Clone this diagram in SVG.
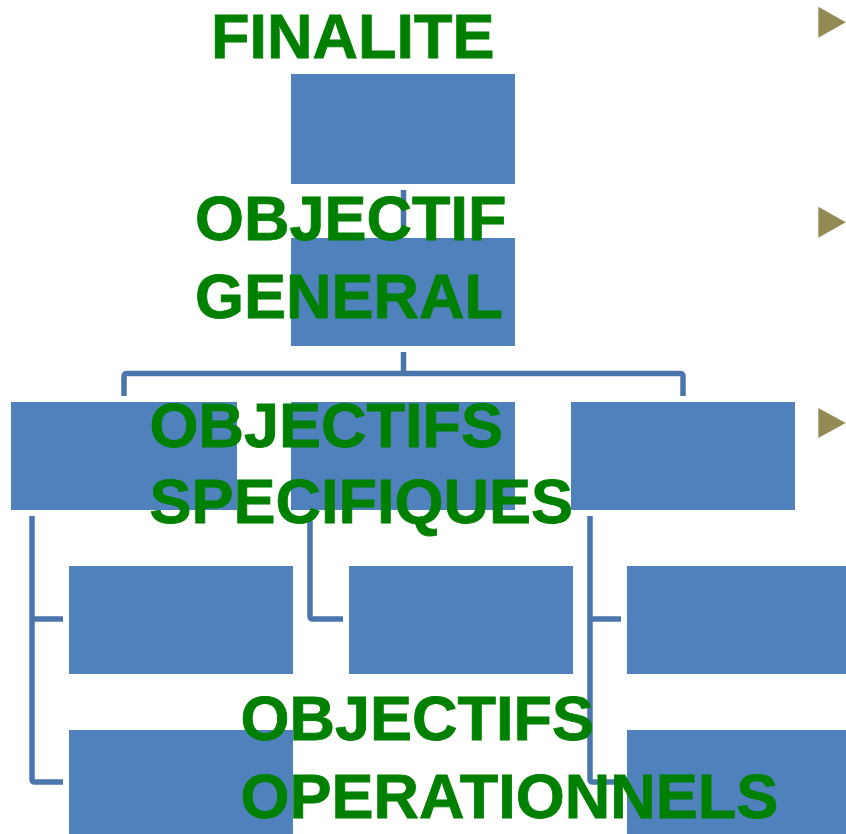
<svg xmlns="http://www.w3.org/2000/svg" width="846" height="834" viewBox="0 0 846 834">
<style>
.box{fill:#4f81bd}
.ln{fill:none;stroke:#4a76ab;stroke-width:5.5;stroke-linejoin:round}
.t{font-family:"Liberation Sans",Arial,sans-serif;font-weight:bold;font-size:63px;fill:#008000;stroke:#008000;stroke-width:0.8}
.tri{fill:#938953}
</style>
<rect width="846" height="834" fill="#ffffff"/>
<g id="connectors">
<path class="ln" d="M403.5,190V232"/>
<path class="ln" d="M403.5,352V373.5"/>
<path class="ln" d="M124,396V376.5Q124,373.5 127,373.5H680Q683,373.5 683,376.5V396"/>
<path class="ln" d="M32,516V779Q32,782 35,782H63M32,619H63"/>
<path class="ln" d="M310,516V616Q310,619 313,619H343"/>
<path class="ln" d="M590,516V779Q590,782 593,782H621M590,619H621"/>
</g>
<g id="n-finalite"><rect class="box" x="291" y="74" width="224" height="110"/></g>
<g id="n-general"><rect class="box" x="291" y="238" width="224" height="108"/></g>
<g id="n-spec1"><rect class="box" x="11" y="402" width="226" height="108"/></g>
<g id="n-spec2"><rect class="box" x="291" y="402" width="224" height="108"/></g>
<g id="n-spec3"><rect class="box" x="571" y="402" width="224" height="108"/></g>
<g id="n-op1"><rect class="box" x="69" y="566" width="224" height="108"/></g>
<g id="n-op2"><rect class="box" x="69" y="730" width="224" height="108"/></g>
<g id="n-op3"><rect class="box" x="349" y="566" width="224" height="108"/></g>
<g id="n-op4"><rect class="box" x="627" y="566" width="224" height="108"/></g>
<g id="n-op5"><rect class="box" x="627" y="730" width="224" height="108"/></g>
<g id="labels">
<text class="t" x="211" y="58.3">FINALITE</text>
<text class="t" x="195" y="240">OBJECTIF</text>
<text class="t" x="195" y="318">GENERAL</text>
<text class="t" x="149.5" y="446.7">OBJECTIFS</text>
<text class="t" x="149.5" y="523.3">SPECIFIQUES</text>
<text class="t" x="240.5" y="740">OBJECTIFS</text>
<text class="t" x="240.5" y="818">OPERATIONNELS</text>
</g>
<g id="bullets">
<polygon class="tri" points="818.3,6.7 845.7,22.2 818.3,37.7"/>
<polygon class="tri" points="818.3,206.7 845.7,222.2 818.3,237.7"/>
<polygon class="tri" points="818.3,408 845.7,423 818.3,438"/>
</g>
</svg>
